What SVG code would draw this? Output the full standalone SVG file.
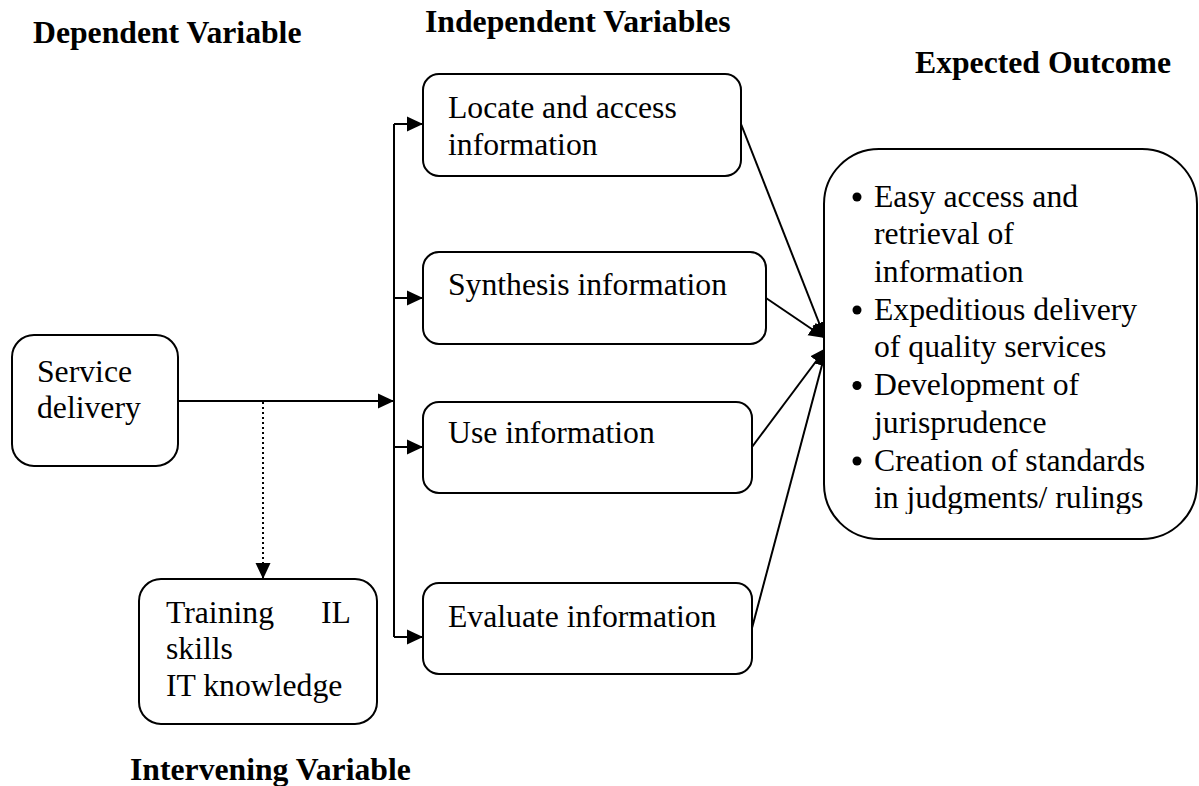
<svg xmlns="http://www.w3.org/2000/svg" width="1199" height="786" viewBox="0 0 1199 786">
<style>
  .box { fill: #ffffff; stroke: #000000; stroke-width: 2; }
  .t { font-family: "Liberation Serif", "Times New Roman", serif; font-size: 31.7px; fill: #000000; }
  .h { font-family: "Liberation Serif", "Times New Roman", serif; font-size: 31.7px; font-weight: bold; fill: #000000; }
  .ln { fill: none; stroke: #000000; stroke-width: 2; }
  .dot { fill: none; stroke: #000000; stroke-width: 2; stroke-dasharray: 2 3; }
  .bul { fill: #000000; }
</style>
<defs>
  <marker id="arr" markerUnits="userSpaceOnUse" markerWidth="18" markerHeight="16" refX="16" refY="8" orient="auto">
    <path d="M0,0.5 L16,8 L0,15.5 Z" fill="#000000"/>
  </marker>
  <clipPath id="outclip">
    <rect x="824" y="149" width="374" height="365"/>
  </clipPath>
</defs>
<rect width="1199" height="786" fill="#ffffff"/>

<g id="headers">
  <text class="h" x="33" y="43">Dependent Variable</text>
  <text class="h" x="425" y="32">Independent Variables</text>
  <text class="h" x="915" y="73">Expected Outcome</text>
  <text class="h" x="130" y="780">Intervening Variable</text>
</g>

<g id="connectors">
  <path class="ln" d="M178,401 H394" marker-end="url(#arr)"/>
  <path class="ln" d="M394,124 V637"/>
  <path class="ln" d="M394,124 H423" marker-end="url(#arr)"/>
  <path class="ln" d="M394,298 H423" marker-end="url(#arr)"/>
  <path class="ln" d="M394,447 H423" marker-end="url(#arr)"/>
  <path class="ln" d="M394,637 H423" marker-end="url(#arr)"/>
  <path class="dot" d="M263,402 V579" marker-end="url(#arr)"/>
  <path class="ln" d="M741,124 L825,338" marker-end="url(#arr)"/>
  <path class="ln" d="M766,298 L825,338" marker-end="url(#arr)"/>
  <path class="ln" d="M752,447 L826,348" marker-end="url(#arr)"/>
  <path class="ln" d="M752,628 L826,350" marker-end="url(#arr)"/>
</g>

<g id="service-delivery">
  <rect class="box" x="12" y="335" width="166" height="131" rx="22"/>
  <text class="t" x="37" y="382">Service</text>
  <text class="t" x="37" y="418">delivery</text>
</g>

<g id="locate">
  <rect class="box" x="423" y="74" width="318" height="102" rx="16"/>
  <text class="t" x="448" y="118">Locate and access</text>
  <text class="t" x="448" y="155">information</text>
</g>

<g id="synthesis">
  <rect class="box" x="423" y="252" width="343" height="92" rx="16"/>
  <text class="t" x="448" y="295">Synthesis information</text>
</g>

<g id="use">
  <rect class="box" x="423" y="402" width="329" height="91" rx="16"/>
  <text class="t" x="448" y="443">Use information</text>
</g>

<g id="evaluate">
  <rect class="box" x="423" y="583" width="329" height="91" rx="16"/>
  <text class="t" x="448" y="627">Evaluate information</text>
</g>

<g id="training">
  <rect class="box" x="139" y="579" width="238" height="145" rx="22"/>
  <text class="t" x="166" y="623">Training</text>
  <text class="t" x="321" y="623">IL</text>
  <text class="t" x="166" y="659">skills</text>
  <text class="t" x="166" y="696">IT knowledge</text>
</g>

<g id="outcome">
  <rect class="box" x="824" y="149" width="373" height="390" rx="55"/>
  <circle class="bul" cx="857" cy="197" r="4.5"/>
  <circle class="bul" cx="857" cy="310" r="4.5"/>
  <circle class="bul" cx="857" cy="385.5" r="4.5"/>
  <circle class="bul" cx="857" cy="461" r="4.5"/>
  <g clip-path="url(#outclip)">
    <text class="t" x="874" y="206.5">Easy access and</text>
    <text class="t" x="874" y="244">retrieval of</text>
    <text class="t" x="874" y="281.5">information</text>
    <text class="t" x="874" y="319.5">Expeditious delivery</text>
    <text class="t" x="874" y="357">of quality services</text>
    <text class="t" x="874" y="395">Development of</text>
    <text class="t" x="874" y="432.5">jurisprudence</text>
    <text class="t" x="874" y="470.5">Creation of standards</text>
    <text class="t" x="874" y="508">in judgments/ rulings</text>
  </g>
</g>
</svg>
